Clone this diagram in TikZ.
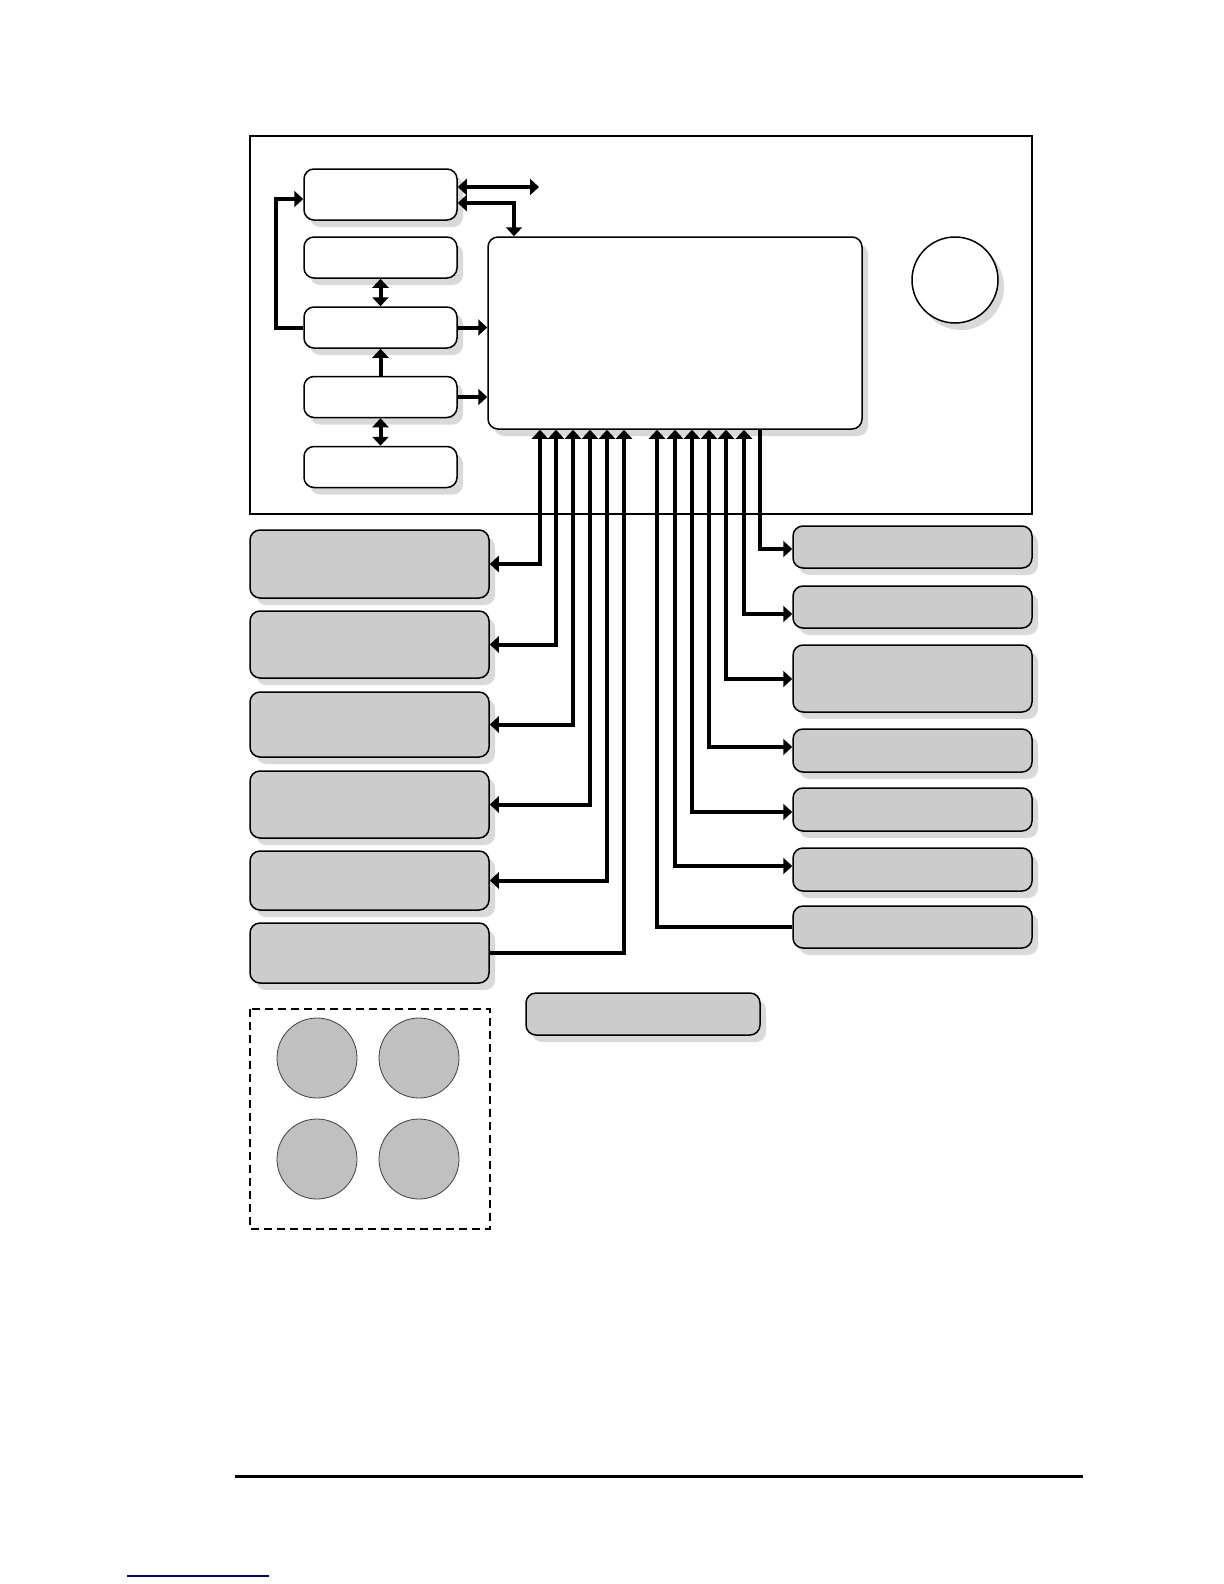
\documentclass[tikz,border=0pt]{standalone}
\usetikzlibrary{arrows.meta,shadows}
\definecolor{boxgray}{HTML}{CCCCCC}
\definecolor{padgray}{HTML}{C0C0C0}
\definecolor{shadegray}{HTML}{D9D9D9}
\definecolor{linkblue}{HTML}{0000A0}
\begin{document}
\begin{tikzpicture}[x=0.5pt,y=-0.5pt,
    >={Triangle[length=4.5pt,width=8pt]},
    panel/.style={draw, line width=0.75pt, rounded corners=5pt, inner sep=0pt,
      drop shadow={shadow xshift=3pt, shadow yshift=-3.5pt, fill=shadegray, opacity=1}},
    stackbox/.style={panel, fill=white, minimum width=76.5pt, minimum height=20.5pt},
    sidebox/.style={panel, fill=boxgray, minimum width=119.5pt},
    pad/.style={circle, draw=black!75, line width=0.4pt, fill=padgray, minimum size=40pt, inner sep=0pt},
    link/.style={line width=2pt}]
  % page size and front panel frame
  \useasboundingbox (0,0) rectangle (1224,1584);
  \draw[line width=0.75pt] (250,136) rectangle (1032,514);

  % left stack inside the panel
  \node[stackbox, minimum height=25.5pt] (s1) at (380.5,194.5) {};
  \node[stackbox] (s2) at (380.5,257.5) {};
  \node[stackbox] (s3) at (380.5,327.5) {};
  \node[stackbox] (s4) at (380.5,397) {};
  \node[stackbox] (s5) at (380.5,467) {};
  \node[panel, fill=white, minimum width=187pt, minimum height=96pt] (disp) at (675,333) {};
  \node[panel, circle, fill=white, minimum size=43pt] (knob) at (955,280) {};
  \coordinate (tap) at (539,187);

  \draw[link,<->] (s1.east |- 0,187) -- (tap);
  \draw[link,<->] (s1.east |- 0,203) -| (514,0 |- disp.north);
  \draw[link,->] (s3.west) -- (276,0 |- s3.west) |- (s1.west |- 0,199);
  \draw[link,<->] (s2.south) -- (s3.north);
  \draw[link,->] (s4.north) -- (s3.south);
  \draw[link,<->] (s4.south) -- (s5.north);
  \draw[link,->] (s3.east) -- (s3.east -| disp.west);
  \draw[link,->] (s4.east) -- (s4.east -| disp.west);

  % boxes below the panel
  \node[sidebox, minimum height=34pt] (l1) at (369.5,564) {};
  \node[sidebox, minimum height=33.5pt] (l2) at (369.5,644.5) {};
  \node[sidebox, minimum height=32.5pt] (l3) at (369.5,724.5) {};
  \node[sidebox, minimum height=33.5pt] (l4) at (369.5,804.5) {};
  \node[sidebox, minimum height=29.5pt] (l5) at (369.5,880.5) {};
  \node[sidebox, minimum height=30pt] (l6) at (369.5,953) {};

  \node[sidebox, minimum height=21pt] (r1) at (912.5,547) {};
  \node[sidebox, minimum height=21pt] (r2) at (912.5,607) {};
  \node[sidebox, minimum height=33.5pt] (r3) at (912.5,678.5) {};
  \node[sidebox, minimum height=21.5pt] (r4) at (912.5,750.5) {};
  \node[sidebox, minimum height=21.5pt] (r5) at (912.5,809.5) {};
  \node[sidebox, minimum height=21.5pt] (r6) at (912.5,869.5) {};
  \node[sidebox, minimum height=21pt] (r7) at (912.5,927) {};

  \foreach \n/\x in {1/540,2/556,3/573,4/590,5/607}
    \draw[link,<->] (l\n.east) -| (\x,0 |- disp.south);
  \draw[link,->] (l6.east) -| (624,0 |- disp.south);
  \draw[link,->] (760,0 |- disp.south) |- (r1.west |- 0,549);
  \foreach \n/\x/\y in {2/744/614,3/726/679,4/709/747,5/692/812,6/675/866}
    \draw[link,<->] (\x,0 |- disp.south) |- (r\n.west |- 0,\y);
  \draw[link,->] (r7.west) -| (657,0 |- disp.south);

  \node[sidebox, minimum width=117pt, minimum height=21pt] (note) at (643,1014) {};

  % keypad group
  \draw[line width=0.75pt, dash pattern=on 4pt off 2.5pt] (250,1009) rectangle (490,1229);
  \node[pad] (p1) at (317,1058) {};
  \node[pad] (p2) at (419,1058) {};
  \node[pad] (p3) at (317,1159) {};
  \node[pad] (p4) at (419,1159) {};

  % page rule and link
  \draw[line width=1.5pt] (235,1476) -- (1083,1476);
  \draw[linkblue, line width=0.65pt] (127,1576) -- (269,1576);
\end{tikzpicture}
\end{document}
